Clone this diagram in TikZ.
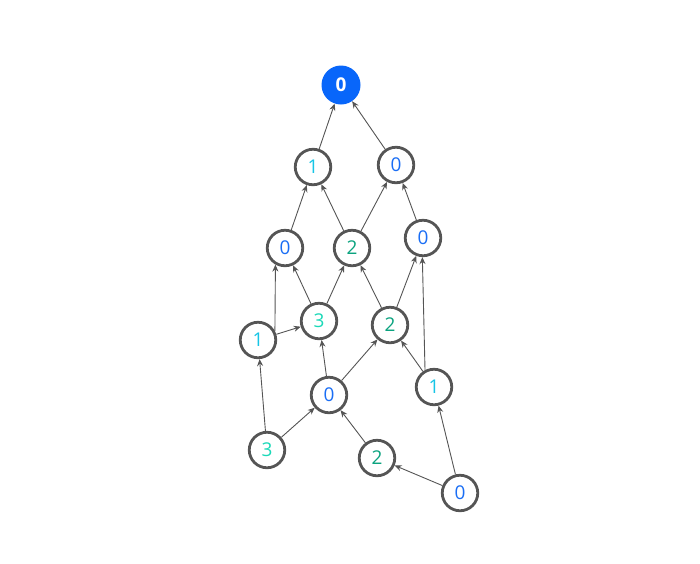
\documentclass[tikz,border=0pt]{standalone}
\usepackage{fontspec}
\setmainfont{Open Sans}
\usetikzlibrary{arrows.meta}
\definecolor{zeroblue}{HTML}{1A6EF5}
\definecolor{rootblue}{HTML}{0866FA}
\definecolor{onecyan}{HTML}{16C5E6}
\definecolor{twogreen}{HTML}{0BA37F}
\definecolor{threeteal}{HTML}{1BD9B8}
\definecolor{ringgray}{HTML}{555555}
\tikzset{
  % Graph nodes
  heightnode/.style={circle, draw=ringgray, line width=2.8pt, fill=white,
    minimum size=35.5pt, inner sep=0pt, font=\fontsize{19}{19}\selectfont},
  rootnode/.style={circle, fill=rootblue, minimum size=39pt, inner sep=0pt,
    text=white, font=\fontsize{19}{19}\selectfont\bfseries},
  % Edges
  edgepointer/.style={-{Stealth[length=7pt, width=6pt]}, line width=0.9pt, draw=ringgray},
}
\begin{document}
\begin{tikzpicture}[x=1pt, y=-1pt]
  \useasboundingbox (0,0) rectangle (700,563);

  % Define nodes
  \node[rootnode] (root) at (341,85) {0};
  \node[heightnode, text=onecyan] (a1) at (313,167) {1};
  \node[heightnode, text=zeroblue] (a2) at (396,165) {0};
  \node[heightnode, text=zeroblue] (b1) at (285,248) {0};
  \node[heightnode, text=twogreen] (b2) at (352,248) {2};
  \node[heightnode, text=zeroblue] (b3) at (423,238) {0};
  \node[heightnode, text=onecyan] (c1) at (258,340) {1};
  \node[heightnode, text=threeteal] (c2) at (319,321) {3};
  \node[heightnode, text=twogreen] (c3) at (390,325) {2};
  \node[heightnode, text=zeroblue] (d1) at (329,395) {0};
  \node[heightnode, text=onecyan] (d2) at (434,387) {1};
  \node[heightnode, text=threeteal] (e1) at (267,450) {3};
  \node[heightnode, text=twogreen] (e2) at (377,458) {2};
  \node[heightnode, text=zeroblue] (f) at (460,493) {0};

  \draw[edgepointer] (a1) -- (root);
  \draw[edgepointer] (a2) -- (root);
  \draw[edgepointer] (b1) -- (a1);
  \draw[edgepointer] (b2) -- (a1);
  \draw[edgepointer] (b2) -- (a2);
  \draw[edgepointer] (b3) -- (a2);
  \draw[edgepointer] (c1.28) -- (b1.240);
  \draw[edgepointer] (c2) -- (b1);
  \draw[edgepointer] (c2) -- (b2);
  \draw[edgepointer] (c3) -- (b2);
  \draw[edgepointer] (c3) -- (b3);
  \draw[edgepointer] (c1) -- (c2);
  \draw[edgepointer] (d1) -- (c2);
  \draw[edgepointer] (d1) -- (c3);
  \draw[edgepointer] (d2) -- (c3);
  \draw[edgepointer] (d2.118) -- (b3.268);
  \draw[edgepointer] (e1) -- (c1);
  \draw[edgepointer] (e1) -- (d1);
  \draw[edgepointer] (e2) -- (d1);
  \draw[edgepointer] (f) -- (e2);
  \draw[edgepointer] (f) -- (d2);

\end{tikzpicture}
\end{document}
